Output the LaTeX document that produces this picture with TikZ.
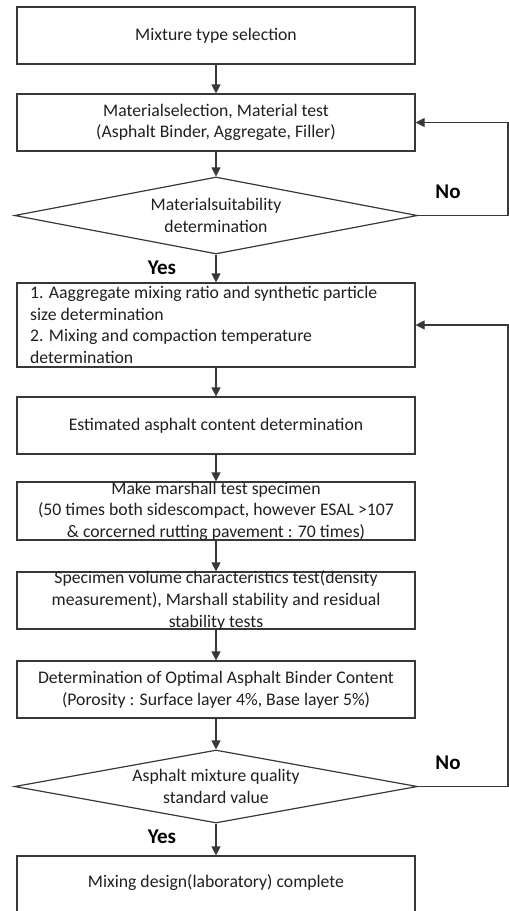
\documentclass[tikz,border=0pt]{standalone}
\usepackage{fontspec}
\setmainfont{Carlito}
\usetikzlibrary{shapes.geometric,arrows.meta}
\begin{document}
\begin{tikzpicture}[x=1pt,y=-1pt,
  every node/.style={font=\fontsize{17.7}{21.6}\selectfont, text=black!88, inner sep=0pt},
  box/.style={draw=black!78, line width=1.2pt, minimum width=398pt, minimum height=57pt},
  dec/.style={draw=black!78, line width=1.2pt, shape=diamond, minimum width=403pt, minimum height=77pt},
  txt/.style={align=center},
  ltxt/.style={align=left, anchor=west},
  yn/.style={font=\fontsize{21}{24}\selectfont\bfseries, text=black},
  conn/.style={draw=black!78, line width=1.2pt, -{Triangle[length=9pt,width=9pt]}}
]
\useasboundingbox (0,0) rectangle (509,911);
\clip (0,0) rectangle (509,911);

\node[box] (b1) at (216,35.5) {};
\node[txt] (t1) at (b1.center) {Mixture type selection};

\node[box] (b2) at (216,122.5) {};
\node[txt] (t2) at (b2.center) {Materialselection, Material test\\(Asphalt Binder, Aggregate, Filler)};

\node[dec] (d1) at (216,215.5) {};
\node[txt] (td1) at (d1.center) {Materialsuitability\\determination};

\node[box, minimum height=84pt] (b3) at (216,325) {};
\node[ltxt] (t3) at (30,325) {1. Aaggregate mixing ratio and synthetic particle\\size determination\\2. Mixing and compaction temperature\\determination};

\node[box] (b4) at (216,425.5) {};
\node[txt] (t4) at (b4.center) {Estimated asphalt content determination};

\node[box, minimum height=58pt] (b5) at (216,511) {};
\node[txt] (t5) at (b5.center) {Make marshall test specimen\\(50 times both sidescompact, however ESAL >107\\\& corcerned rutting pavement : 70 times)};

\node[box] (b6) at (216,600.5) {};
\node[txt] (t6) at (b6.center) {Specimen volume characteristics test(density\\measurement), Marshall stability and residual\\stability tests};

\node[box] (b7) at (216,689.5) {};
\node[txt] (t7) at (b7.center) {Determination of Optimal Asphalt Binder Content\\(Porosity : Surface layer 4\%, Base layer 5\%)};

\node[dec, minimum height=73pt] (d2) at (216,786.5) {};
\node[txt] (td2) at (d2.center) {Asphalt mixture quality\\standard value};

\node[box, minimum height=58pt] (b8) at (216,885) {};
\node[txt] (t8) at (216,883) {Mixing design(laboratory) complete};

\node[yn] (y1) at (162,268) {Yes};
\node[yn] (n1) at (448,192) {No};
\node[yn] (y2) at (162,837) {Yes};
\node[yn] (n2) at (448,763) {No};

\coordinate (r1) at (508,215.5);
\coordinate (r2) at (508,786.5);

\draw[conn] (b1.south) -- (b2.north);
\draw[conn] (b2.south) -- (d1.north);
\draw[conn] (d1.south) -- (b3.north);
\draw[conn] (b3.south) -- (b4.north);
\draw[conn] (b4.south) -- (b5.north);
\draw[conn] (b5.south) -- (b6.north);
\draw[conn] (b6.south) -- (b7.north);
\draw[conn] (b7.south) -- (d2.north);
\draw[conn] (d2.south) -- (b8.north);
\draw[conn] (d1.east) -- (r1) |- (b2.east);
\draw[conn] (d2.east) -- (r2) |- (b3.east);
\end{tikzpicture}
\end{document}
